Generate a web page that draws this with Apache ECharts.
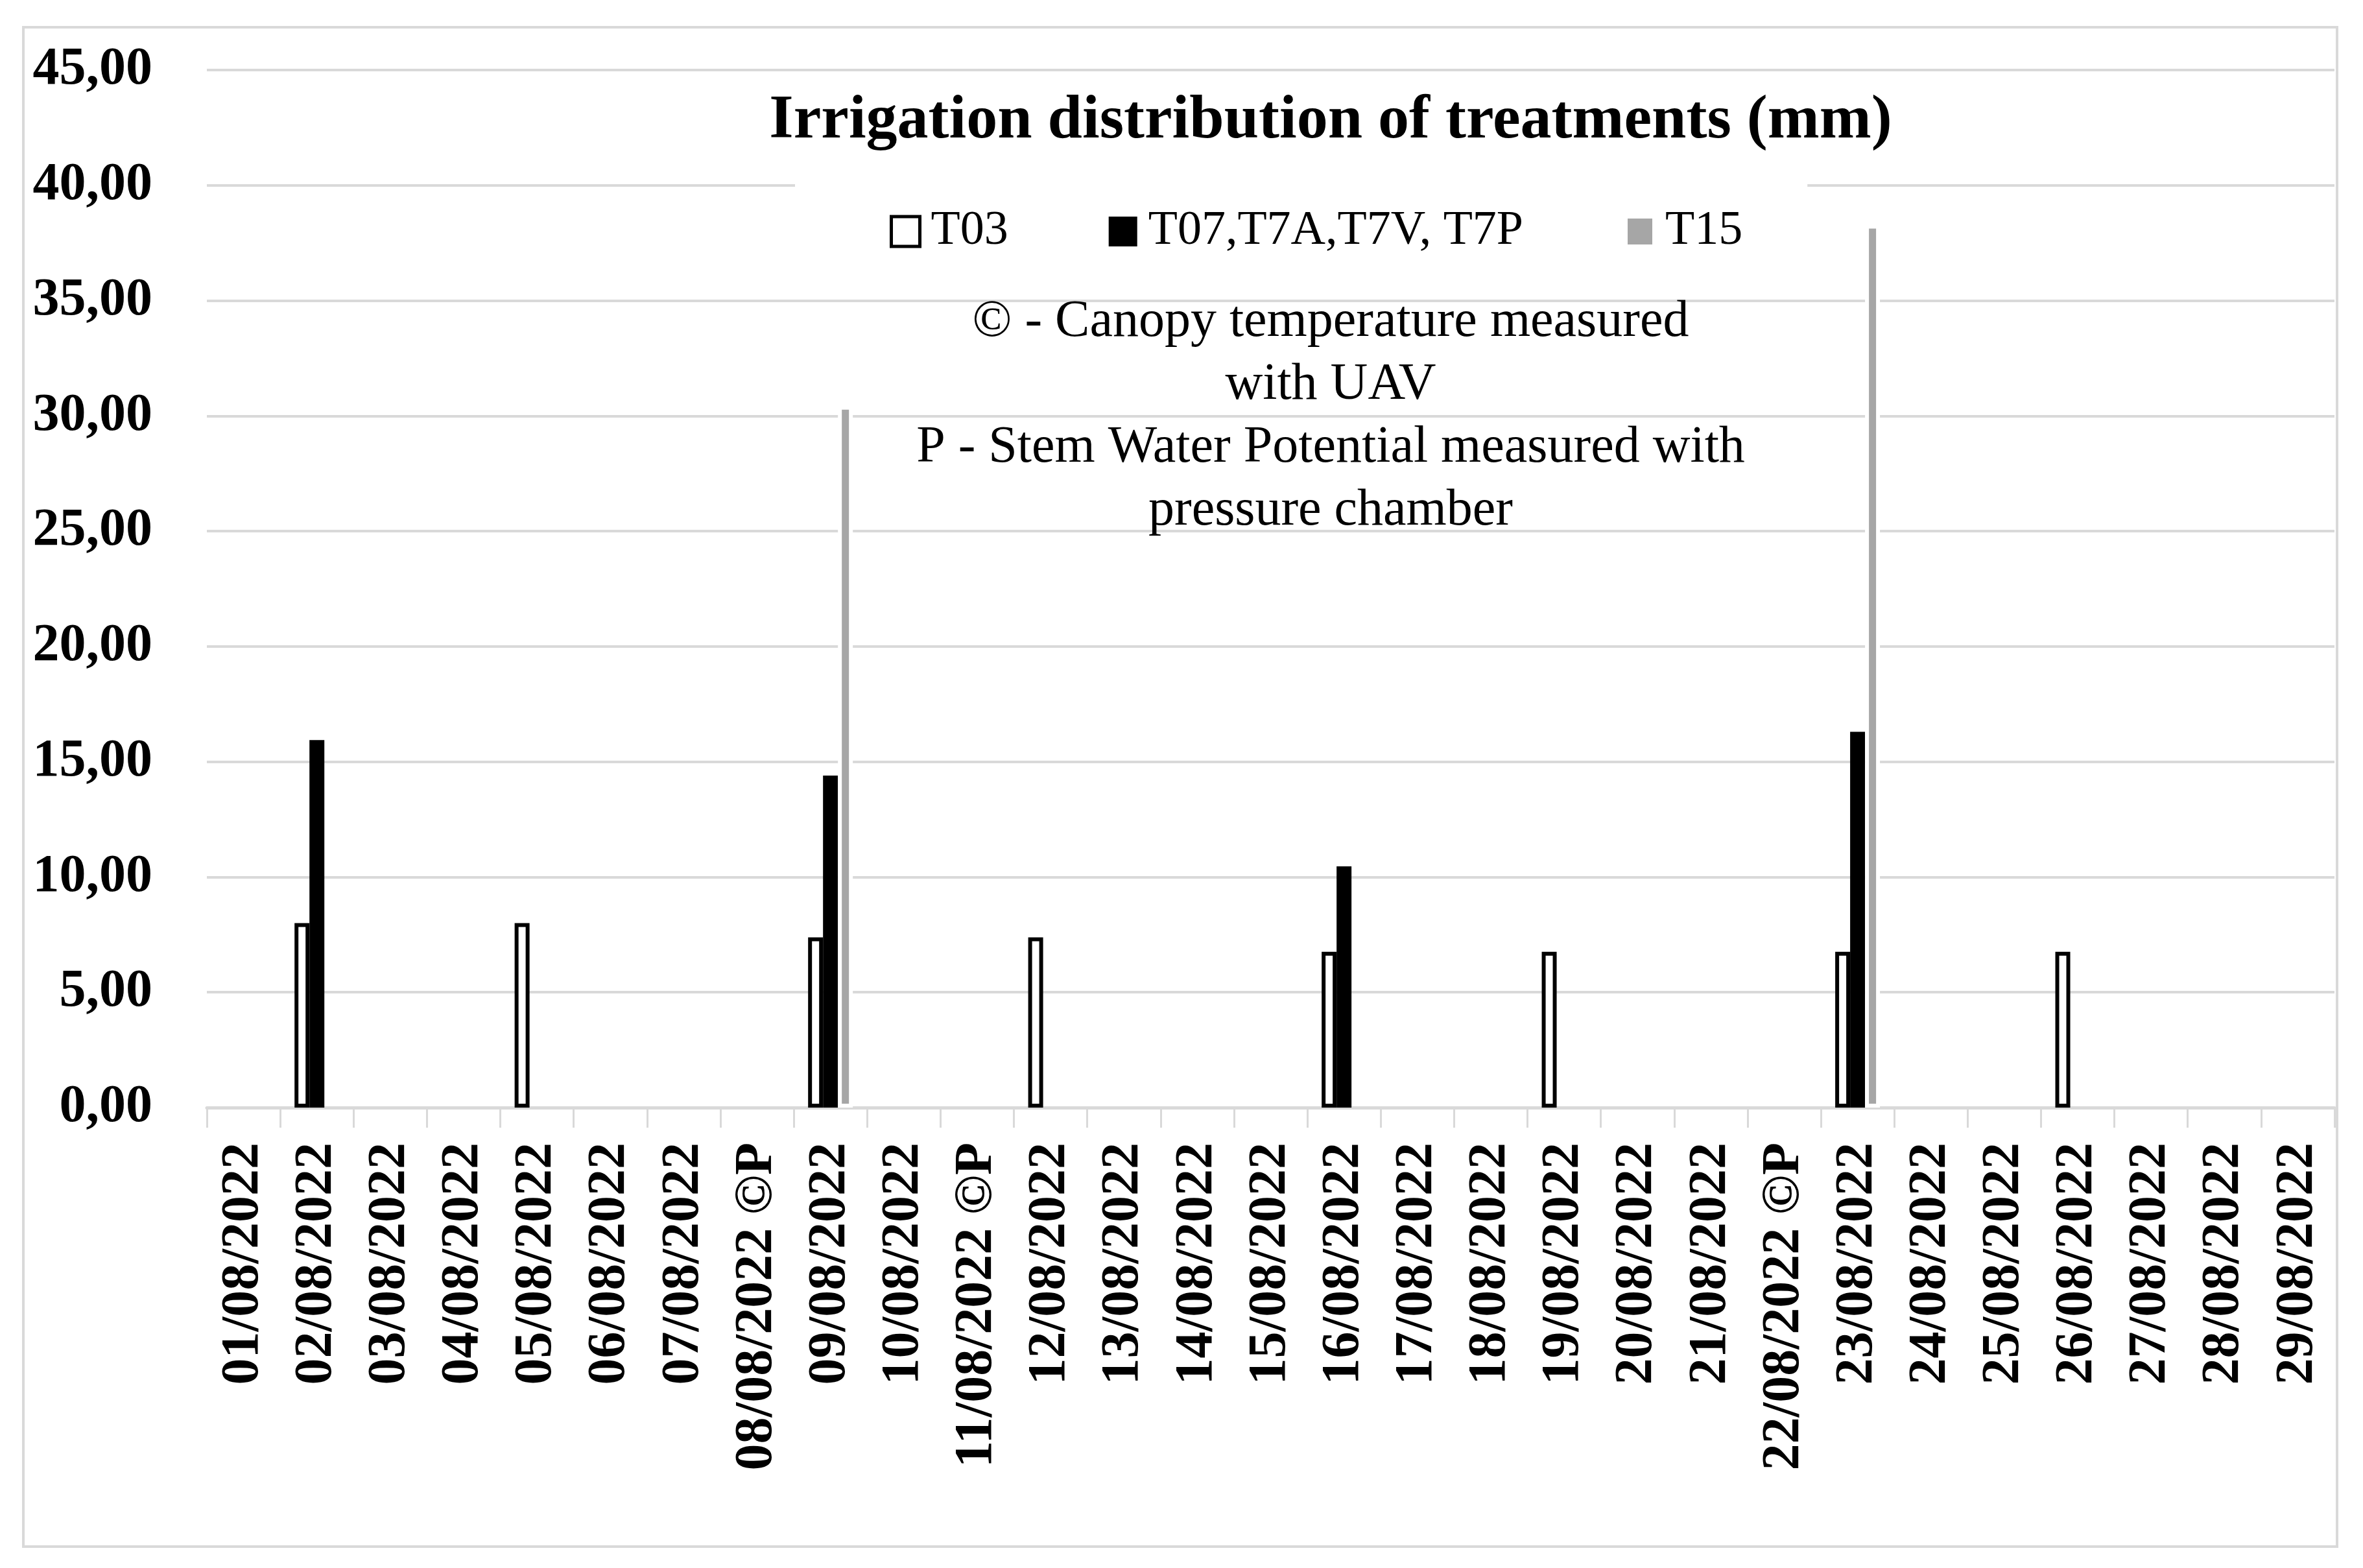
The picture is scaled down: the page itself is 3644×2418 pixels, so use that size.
<!DOCTYPE html>
<html>
<head>
<meta charset="utf-8">
<script src="https://cdn.jsdelivr.net/npm/echarts@6/dist/echarts.min.js"></script>
<style>
html,body{margin:0;padding:0;background:#fff;}
#chart{width:3644px;height:2418px;}
</style>
</head>
<body>
<div id="chart"></div>
<script>
const categories = [
  '01/08/2022','02/08/2022','03/08/2022','04/08/2022','05/08/2022','06/08/2022','07/08/2022',
  '08/08/2022 ©P','09/08/2022','10/08/2022','11/08/2022 ©P','12/08/2022','13/08/2022','14/08/2022',
  '15/08/2022','16/08/2022','17/08/2022','18/08/2022','19/08/2022','20/08/2022','21/08/2022',
  '22/08/2022 ©P','23/08/2022','24/08/2022','25/08/2022','26/08/2022','27/08/2022','28/08/2022','29/08/2022'
];
const seriesNames = ['T03', 'T07,T7A,T7V, T7P', 'T15'];
const t03 = [null,8.00,null,null,8.00,null,null,null,7.38,null,null,7.38,null,null,null,6.76,null,null,6.76,null,null,null,6.76,null,null,6.76,null,null,null];
const t07 = [null,15.94,null,null,null,null,null,null,14.40,null,null,null,null,null,null,10.46,null,null,null,null,null,null,16.30,null,null,null,null,null,null];
const t15 = [null,null,null,null,null,null,null,null,30.44,null,null,null,null,null,null,null,null,null,null,null,null,null,38.29,null,null,null,null,null,null];
const yTickLabels = ['0,00','5,00','10,00','15,00','20,00','25,00','30,00','35,00','40,00','45,00'];
const chartTitle = 'Irrigation distribution of treatments (mm)';
const noteText = '© - Canopy temperature measured\nwith UAV\nP - Stem Water Potential measured with\npressure chamber';

const FONT = 'Liberation Serif';
const GRID_COLOR = '#d9d9d9';

const chart = echarts.init(document.getElementById('chart'), null, {renderer: 'canvas'});
const option = {
  animation: false,
  backgroundColor: '#ffffff',
  title: [
    {
      text: chartTitle,
      left: 2052, top: 139, padding: 0,
      textAlign: 'center',
      textStyle: {fontFamily: FONT, fontWeight: 'bold', fontSize: 96, lineHeight: 96, color: '#000'}
    },
    {
      text: noteText,
      left: 2052, top: 448, padding: 0,
      textAlign: 'center',
      textStyle: {fontFamily: FONT, fontWeight: 'normal', fontSize: 80, lineHeight: 97, color: '#000'}
    }
  ],
  legend: {
    left: 1226, top: 268,
    padding: [52, 100, 52, 146],
    backgroundColor: '#ffffff',
    itemWidth: 44, itemHeight: 46, itemGap: 155,
    icon: 'rect',
    textStyle: {fontFamily: FONT, fontSize: 74, color: '#000', padding: [0, 0, 0, 12]},
    data: [
      {name: seriesNames[0], itemStyle: {color: '#ffffff', borderColor: '#000000', borderWidth: 5}},
      {name: seriesNames[1], itemStyle: {color: '#000000', borderWidth: 0}},
      {name: seriesNames[2], itemStyle: {color: '#a6a6a6', borderColor: '#ffffff', borderWidth: 6}}
    ]
  },
  graphic: [
    {
      type: 'rect', z: -10, silent: true,
      shape: {x: 36, y: 42, width: 3568, height: 2343},
      style: {fill: 'none', stroke: GRID_COLOR, lineWidth: 4}
    }
  ],
  grid: {left: 319, right: 44, top: 108, bottom: 710, containLabel: false, outerBoundsMode: 'none'},
  xAxis: {
    type: 'category',
    data: categories,
    boundaryGap: true,
    axisLine: {show: true, lineStyle: {color: GRID_COLOR, width: 5}},
    axisTick: {show: true, length: 31, lineStyle: {color: GRID_COLOR, width: 3}},
    axisLabel: {interval: 0, rotate: 90, margin: 54, fontFamily: FONT, fontWeight: 'bold', fontSize: 82, color: '#000'},
    splitLine: {show: false}
  },
  yAxis: {
    type: 'value',
    min: 0, max: 45, interval: 5,
    axisLine: {show: false},
    axisTick: {show: false},
    axisLabel: {
      margin: 84, fontFamily: FONT, fontWeight: 'bold', fontSize: 82, color: '#000',
      formatter: function (v) { return yTickLabels[Math.round(v / 5)]; }
    },
    splitLine: {show: true, lineStyle: {color: GRID_COLOR, width: 4}}
  },
  series: [
    {
      name: seriesNames[0], type: 'bar', data: t03, barWidth: 23, barGap: '0%',
      itemStyle: {color: '#ffffff', borderColor: '#000000', borderWidth: 6}
    },
    {
      name: seriesNames[1], type: 'bar', data: t07, barWidth: 23, barGap: '0%',
      itemStyle: {color: '#000000'}
    },
    {
      name: seriesNames[2], type: 'bar', data: t15, barWidth: 23, barGap: '0%',
      itemStyle: {color: '#a6a6a6', borderColor: '#ffffff', borderWidth: 6}
    }
  ]
};
chart.setOption(option);
</script>
</body>
</html>
